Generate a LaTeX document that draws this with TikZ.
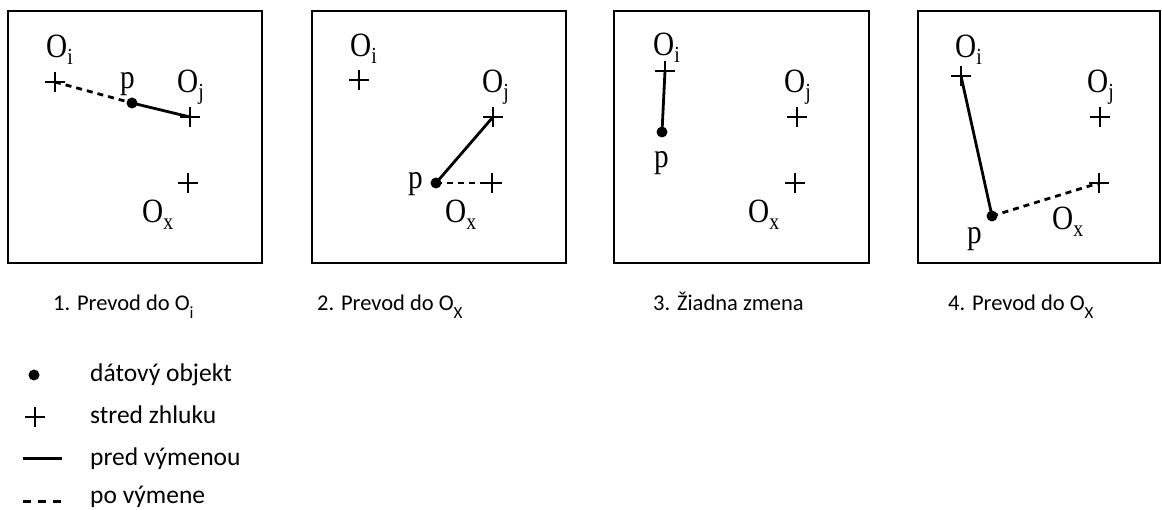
\documentclass[tikz,border=0pt]{standalone}
\usepackage{fontspec}
\setmainfont{Carlito}
\newfontfamily\serif{Liberation Serif}
\newcommand\Ol[1]{O\raisebox{-7pt}{\fontsize{23}{23}\selectfont #1}}
\newcommand\Oc[1]{O\raisebox{-8pt}{\fontsize{17}{17}\selectfont #1}}
\begin{document}
\begin{tikzpicture}[x=1pt,y=-1pt,
  box/.style={draw,line width=2.8pt},
  lbl/.style={font=\serif\fontsize{34}{34}\selectfont,inner sep=0,anchor=base west,xscale=0.86,transform shape},
  captxt/.style={font=\fontsize{22.5}{22.5}\selectfont,inner sep=0,anchor=base west},
  legtxt/.style={font=\fontsize{25.5}{25.5}\selectfont,inner sep=0,anchor=base west},
  solidc/.style={line width=2.8pt},
  dashc/.style={line width=2.8pt,dash pattern=on 6pt off 5pt},
  cross/.pic={\draw[line width=1.5pt] (-10,0) -- (10,0) (0,-10) -- (0,10);},
  dotm/.style={fill}
]
\useasboundingbox (0,0) rectangle (1162,510);
% boxes
\draw[box] (8,11) rectangle (262,263);
\draw[box] (312,11) rectangle (566,263);
\draw[box] (614,11) rectangle (869,263);
\draw[box] (918,11) rectangle (1160,263);

% ---- box 1
\coordinate (ai) at (55,82);
\coordinate (aj) at (190,117);
\coordinate (ax) at (188,183);
\coordinate (ap) at (132,103);
\draw[dashc] (ai) -- (ap);
\draw[solidc] (ap) -- (aj);
\pic at (ai) {cross}; \pic at (aj) {cross}; \pic at (ax) {cross};
\fill[dotm] (ap) circle (5.5);
\node[lbl] (aiL) at (46,58) {\Ol{i}};
\node[lbl] (ajL) at (177,93) {\Ol{j}};
\node[lbl] (axL) at (142,223) {\Ol{x}};
\node[lbl] (apL) at (120,89) {p};

% ---- box 2
\coordinate (bi) at (359,80);
\coordinate (bj) at (493,117);
\coordinate (bx) at (492,183);
\coordinate (bp) at (436,183);
\draw[solidc] (bp) -- (bj);
\draw[dashc] (bp) -- (bx);
\pic at (bi) {cross}; \pic at (bj) {cross}; \pic at (bx) {cross};
\fill[dotm] (bp) circle (5.5);
\node[lbl] (biL) at (350,57) {\Ol{i}};
\node[lbl] (bjL) at (482,93) {\Ol{j}};
\node[lbl] (bxL) at (445,223) {\Ol{x}};
\node[lbl] (bpL) at (408,189) {p};

% ---- box 3
\coordinate (ci) at (665,71);
\coordinate (cj) at (797,117);
\coordinate (cx) at (795,183);
\coordinate (cp) at (662,132);
\draw[solidc] (ci) -- (cp);
\pic at (ci) {cross}; \pic at (cj) {cross}; \pic at (cx) {cross};
\fill[dotm] (cp) circle (5.5);
\node[lbl] (ciL) at (653,56) {\Ol{i}};
\node[lbl] (cjL) at (784,93) {\Ol{j}};
\node[lbl] (cxL) at (748,223) {\Ol{x}};
\node[lbl] (cpL) at (654,168) {p};

% ---- box 4
\coordinate (di) at (961,76);
\coordinate (dj) at (1100,117);
\coordinate (dx) at (1099,183);
\coordinate (dp) at (992,216);
\draw[solidc] (di) -- (dp);
\draw[dashc] (dp) -- (dx);
\pic at (di) {cross}; \pic at (dj) {cross}; \pic at (dx) {cross};
\fill[dotm] (dp) circle (5.5);
\node[lbl] (diL) at (955,58) {\Ol{i}};
\node[lbl] (djL) at (1087,93) {\Ol{j}};
\node[lbl] (dxL) at (1052,230) {\Ol{x}};
\node[lbl] (dpL) at (967,244) {p};

% captions
\node[captxt] (c1) at (53,311) {1. Prevod do \Oc{i}};
\node[captxt] (c2) at (317,311) {2. Prevod do \Oc{X}};
\node[captxt] (c3) at (653,311) {3. Žiadna zmena};
\node[captxt] (c4) at (948,311) {4. Prevod do \Oc{X}};

% legend
\coordinate (l1) at (34,375);
\coordinate (l2) at (35,417);
\coordinate (l3a) at (23,458); \coordinate (l3b) at (62,458);
\coordinate (l4a) at (23,501); \coordinate (l4b) at (61,501);
\fill[dotm] (l1) circle (5.5);
\pic at (l2) {cross};
\draw[line width=3pt] (l3a) -- (l3b);
\draw[line width=3pt,dash pattern=on 8pt off 7pt] (l4a) -- (l4b);
\node[legtxt] (t1) at (90,382) {dátový objekt};
\node[legtxt] (t2) at (90,424) {stred zhluku};
\node[legtxt] (t3) at (90,465) {pred výmenou};
\node[legtxt] (t4) at (90,503) {po výmene};
\end{tikzpicture}
\end{document}
